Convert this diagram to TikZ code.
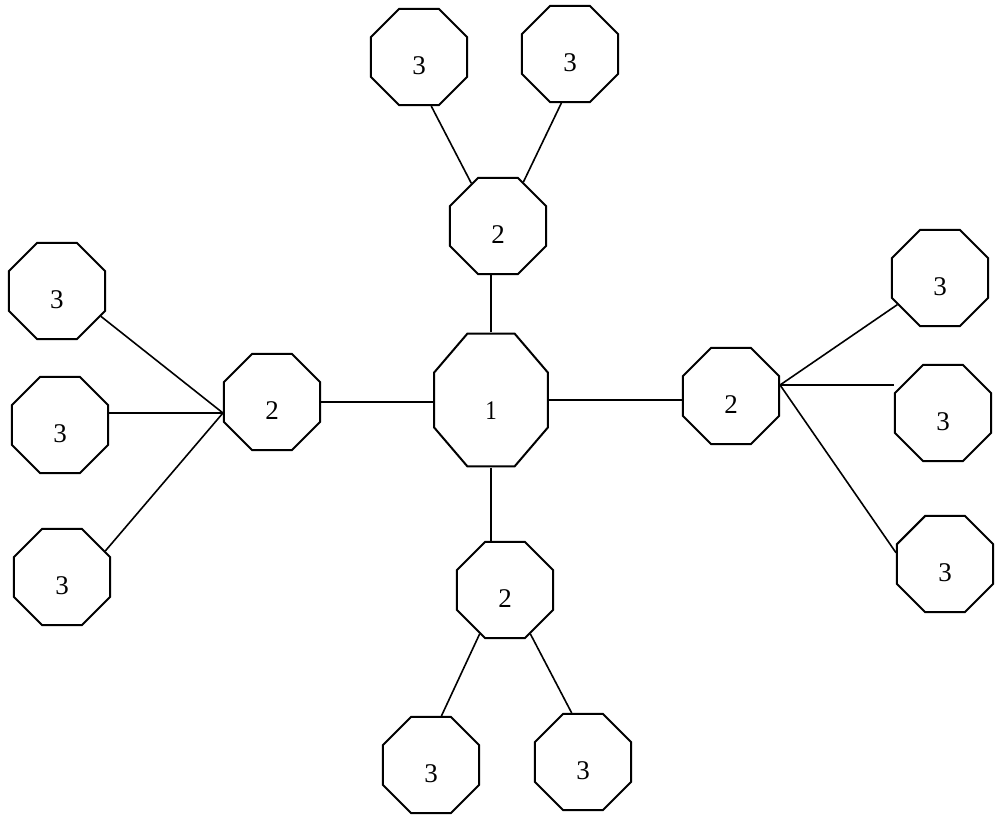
\documentclass[tikz,border=0pt]{standalone}
\usepackage{fontspec}
\setmainfont{Liberation Serif}
\usetikzlibrary{positioning}
\usetikzlibrary{shapes.geometric}

\tikzset{
  oct/.style={draw, regular polygon, regular polygon sides=8, minimum size=52pt,
    inner sep=0pt, line width=1pt,
    text height=17pt, text depth=0pt, font=\fontsize{13.5}{16}\selectfont},
  bigoct/.style={oct, minimum size=61.5pt, yscale=1.17, transform shape,
    font=\fontsize{11.5}{14}\selectfont},
  link/.style={line width=0.8pt}
}

\begin{document}
\begin{tikzpicture}[x=0.5pt,y=-0.5pt]
\useasboundingbox (0,0) rectangle (995,814);

% nodes
{
\node[bigoct] (c1) at (491,400) {1};

\node[oct] (t2) at (498,226) {2};
\node[oct] (t3a) at (419,57) {3};
\node[oct] (t3b) at (570,54) {3};

\node[oct] (l2) at (272,402) {2};
\node[oct] (l3a) at (57,291) {3};
\node[oct] (l3b) at (60,425) {3};
\node[oct] (l3c) at (62,577) {3};

\node[oct] (r2) at (731,396) {2};
\node[oct] (r3a) at (940,278) {3};
\node[oct] (r3b) at (943,413) {3};
\node[oct] (r3c) at (945,564) {3};

\node[oct] (b2) at (505,590) {2};
\node[oct] (b3a) at (431,765) {3};
\node[oct] (b3b) at (583,762) {3};
}

\coordinate (lhub) at ([yshift=-5.5pt]l2.west);
\coordinate (rhub) at ([yshift=5.5pt]r2.east);

% lines
{
\draw[link] (c1.north) -- (c1.north |- t2.south);
\draw[link] (c1.south) -- (c1.south |- b2.north);
\draw[link] (l2.east) -- (l2.east -| c1.west);
\draw[link] (c1.east) -- (c1.east -| r2.west);

\draw[link] (t3a.-76) -- (t2.122);
\draw[link] (t3b.-100) -- (t2.60);

\draw[link] (b2.-120) -- (b3a.78);
\draw[link] (b2.-60) -- (b3b.103);

\draw[link] (lhub) -- (l3a.-30);
\draw[link] (lhub) -- (lhub -| l3b.east);
\draw[link] (lhub) -- (l3c.31);

\draw[link] (rhub) -- (r3a.-148);
\draw[link] (rhub) -- (rhub -| r3b.west);
\draw[link] (rhub) -- (r3c.167);
}

\end{tikzpicture}
\end{document}
